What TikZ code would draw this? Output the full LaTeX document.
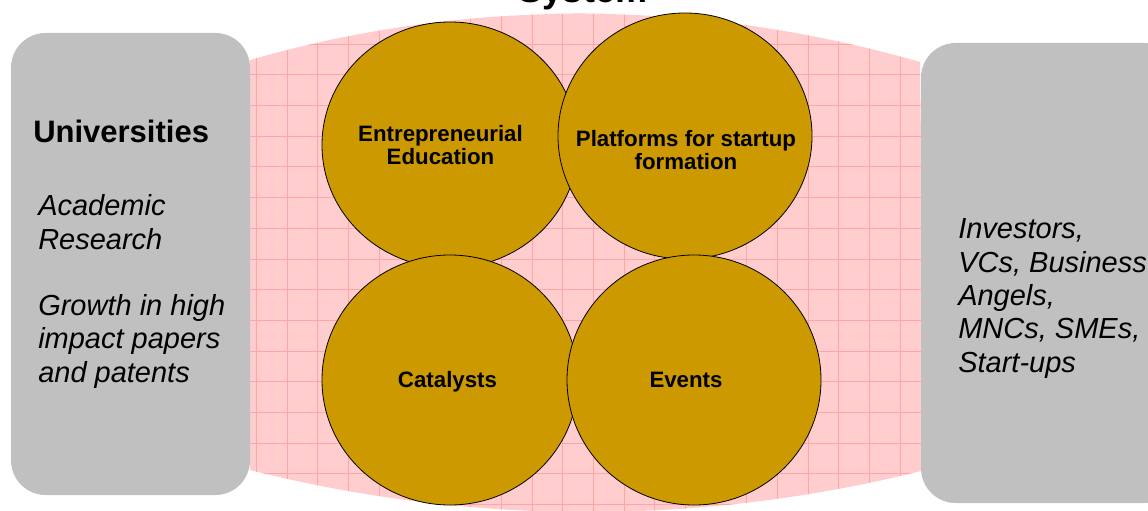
\documentclass[tikz,border=0pt]{standalone}
\usepackage{fontspec}
\setmainfont{Liberation Sans}
\usepackage{xcolor}
\usepackage{tikz}

\definecolor{lenspink}{RGB}{255,205,205}
\definecolor{gridpink}{RGB}{255,165,165}
\definecolor{bubblegold}{RGB}{204,153,0}
\definecolor{panelgrey}{RGB}{192,192,192}

\begin{document}
\begin{tikzpicture}[x=0.75pt,y=0.75pt,yscale=-1,xscale=1,
  bubble/.style={draw=black, fill=bubblegold, line width=0.6pt},
  panel/.style={fill=panelgrey, rounded corners=26pt},
  bubbletext/.style={inner sep=0pt, align=center, font=\bfseries\fontsize{16.7}{17.25}\selectfont},
  sidetext/.style={inner sep=0pt, align=left, anchor=base west, font=\itshape\fontsize{21.75}{25}\selectfont}]
\useasboundingbox (0,0) rectangle (1148,510);

%Shape: Lens [pink background with grid]
\begin{scope}
\clip (250,60) .. controls (469,-3) and (701,-1) .. (920,62) -- (925,470) .. controls (703.5,526) and (471.5,526) .. (250,470) -- cycle;
\fill [lenspink] (240,0) rectangle (940,520);
\foreach \gx in {256.3,286.95,...,935} {
  \draw [gridpink, line width=0.6pt] (\gx,0) -- (\gx,520);
}
\foreach \gy in {13.3,44,...,520} {
  \draw [gridpink, line width=0.6pt] (240,\gy) -- (940,\gy);
}
\end{scope}

%Shape: Rounded Rect [left panel]
\fill [panel] (11,33) rectangle (250,495);
%Shape: Rounded Rect [right panel]
\fill [panel] (921,43) rectangle (1180,503);

%Shape: Ellipse
\draw [bubble] (450,145) ellipse (128 and 123);
%Shape: Ellipse
\draw [bubble] (685,136) ellipse (127 and 123);
%Shape: Ellipse
\draw [bubble] (450,380) ellipse (128 and 125);
%Shape: Ellipse
\draw [bubble] (694,380) ellipse (127 and 125);

% Text Node
\node [inner sep=0pt, anchor=base, font=\bfseries\fontsize{27}{32}\selectfont] (system) at (583,3) {System};
% Text Node
\node [bubbletext] (edu) at (440.5,145) {Entrepreneurial\\Education};
% Text Node
\node [bubbletext] (platforms) at (686,150) {Platforms for startup\\formation};
% Text Node
\node [bubbletext, anchor=base] (catalysts) at (447.5,387) {Catalysts};
% Text Node
\node [bubbletext, anchor=base] (events) at (686,387) {Events};
% Text Node
\node [inner sep=0pt, anchor=base west, font=\bfseries\fontsize{23.25}{28}\selectfont] (univ) at (33,142) {Universities};
% Text Node
\node [sidetext] (research) at (38,249) {Academic\\Research};
% Text Node
\node [sidetext] (growth) at (38,382) {Growth in high\\impact papers\\and patents};
% Text Node
\node [sidetext] (investors) at (958,372) {Investors,\\VCs, Business\\Angels,\\MNCs, SMEs,\\Start-ups};
\end{tikzpicture}
\end{document}
